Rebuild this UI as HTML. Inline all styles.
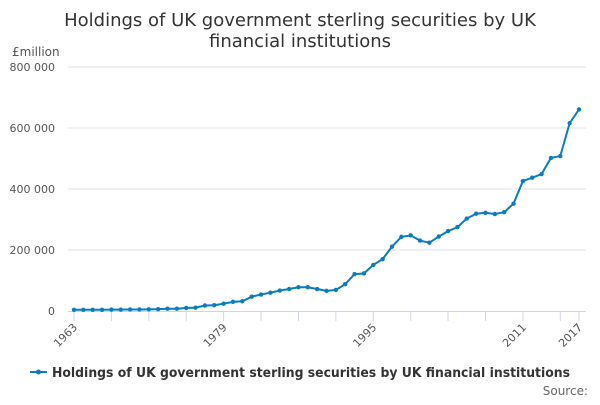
<!DOCTYPE html>
<html><head><meta charset="utf-8"><style>
body{margin:0;background:#fff;font-family:"Liberation Sans","DejaVu Sans",sans-serif;}
svg text{font-family:"DejaVu Sans","Liberation Sans",sans-serif;}
</style></head><body>
<svg id="c" width="600" height="400">
<text x="300" y="26" text-anchor="middle" font-size="18" fill="#333">Holdings of UK government sterling securities by UK</text>
<text x="300" y="47" text-anchor="middle" font-size="18" fill="#333">financial institutions</text>
<text x="12" y="56" font-size="12" fill="#555">£million</text>
<g id="grid"></g><g id="xaxis"></g><g id="series"></g>
<g>
<line x1="30" y1="372" x2="47" y2="372" stroke="#0a7dc2" stroke-width="2"/>
<circle cx="38.5" cy="372" r="2.5" fill="#0a7dc2"/>
<text x="52" y="377" font-size="13" font-weight="bold" fill="#333" textLength="518" lengthAdjust="spacingAndGlyphs">Holdings of UK government sterling securities by UK financial institutions</text>
</g>
<text x="588" y="395" text-anchor="end" font-size="12" fill="#666">Source:</text>
</svg>
<script>
const years=[];for(let y=1963;y<=2017;y++)years.push(y);
const values=[4000,4000,4000,4000,4500,4500,5000,5000,5500,6000,7500,7500,10000,11000,18000,19000,24000,30000,32000,47000,54000,60000,67000,72000,78000,78000,72000,66000,69000,88000,121000,123000,151000,170000,211000,243000,248000,231000,224000,244000,262000,275000,303000,319000,322000,318000,324000,352000,426000,437000,449000,502000,508000,616000,661000];
const yTicks=[0,200000,400000,600000,800000];
const yTickLabels=["0","200 000","400 000","600 000","800 000"];
const xLabels=[1963,1979,1995,2011,2017];
const NS="http://www.w3.org/2000/svg";
const X=y=>74+(y-1963)*(579-74)/54;
const Y=v=>311-v*(244/800000);
function mk(t,a,p){const e=document.createElementNS(NS,t);for(const k in a)e.setAttribute(k,a[k]);p.appendChild(e);return e;}
const g=document.getElementById('grid');
yTicks.forEach((t,i)=>{
 if(t>0){const l=mk('line',{x1:68,x2:586,y1:Y(t),y2:Y(t),stroke:'#e0e0e0'},g);
 
 }
 const tx=mk('text',{x:55,y:Y(t)+4,'text-anchor':'end','font-size':11,fill:'#555'},g);
 tx.textContent=yTickLabels[i];
 
 
});
const xa=document.getElementById('xaxis');
const ax=mk('line',{x1:68,x2:586,y1:311.5,y2:311.5,stroke:'#ccd6eb'},xa);


for(let y=1963;y<=2015;y+=4){mk('line',{x1:X(y),x2:X(y),y1:311,y2:321,stroke:'#ccd6eb'},xa);}
mk('line',{x1:X(2017),x2:X(2017),y1:311,y2:321,stroke:'#ccd6eb'},xa);
xLabels.forEach(y=>{
 const t=mk('text',{x:X(y)+4,y:328,'text-anchor':'end','font-size':11,fill:'#555',transform:`rotate(-45 ${X(y)+4} 328)`},xa);
 t.textContent=y;
 
 
});
const s=document.getElementById('series');
const p=mk('polyline',{points:values.map((v,i)=>X(years[i])+','+Y(v)).join(' '),fill:'none',stroke:'#0a7dc2','stroke-width':2},s);


values.forEach((v,i)=>{
 const c=mk('circle',{cx:X(years[i]),cy:Y(v),r:2.2,fill:'#0a7dc2'},s);
 
 
});
</script>
</body></html>
